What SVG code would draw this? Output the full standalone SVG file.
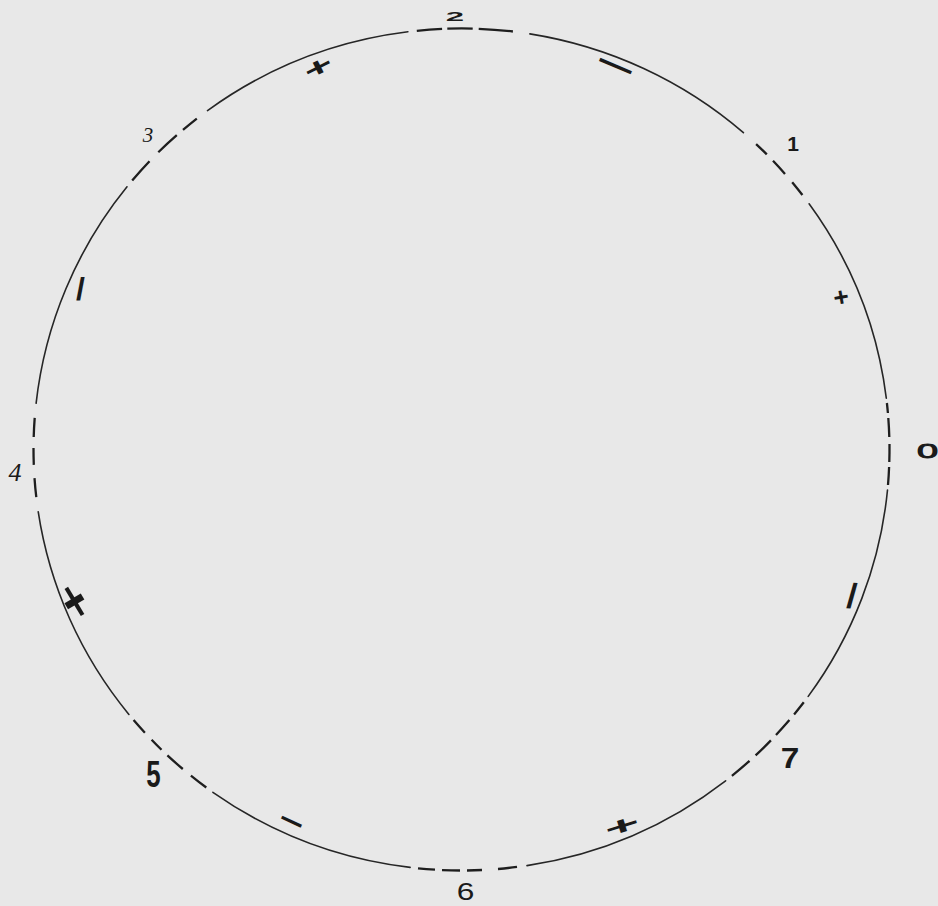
<svg xmlns="http://www.w3.org/2000/svg" width="938" height="906" viewBox="0 0 938 906">
<style>
.solid{fill:none;stroke:#262626;stroke-width:1.6;stroke-linecap:round}
.dash{fill:none;stroke:#1e1e1e;stroke-width:2.3;stroke-linecap:butt}
.lab{font-family:"Liberation Sans",Arial,sans-serif;fill:#1a1a1a;text-anchor:middle}
.it{font-family:"Liberation Serif","Times New Roman",serif;font-style:italic;fill:#1a1a1a;text-anchor:middle}
.mk{font-family:"Liberation Sans",Arial,sans-serif;fill:#1a1a1a;text-anchor:middle;dominant-baseline:central}
</style>
<rect x="0" y="0" width="938" height="906" fill="#e8e8e8"/>
<g id="circle">
<path class="solid" d="M887.5,490.0 A428,421 0 0 1 808.2,696.4 M725.6,780.8 A428,421 0 0 1 527.0,865.6 M410.1,867.4 A428,421 0 0 1 212.9,792.3 M128.9,714.4 A428,421 0 0 1 38.2,511.7 M36.1,403.3 A428,421 0 0 1 127.0,186.8 M207.5,110.6 A428,421 0 0 1 407.9,31.8 M529.9,33.9 A428,421 0 0 1 743.4,132.7 M809.1,203.8 A428,421 0 0 1 886.3,398.2"/>
</g>
<g id="connectors">
<path class="dash" d="M886.9,403.0 A428,421 0 0 1 887.9,413.0 M888.3,418.0 A428,421 0 0 1 889.3,437.0 M889.5,444.0 A428,421 0 0 1 889.3,462.0 M889.1,467.0 A428,421 0 0 1 888.0,485.0"/>
<path class="dash" d="M803.8,702.3 A428,421 0 0 1 794.1,714.4 M789.4,720.1 A428,421 0 0 1 776.0,735.0 M770.9,740.4 A428,421 0 0 1 755.6,755.4 M749.5,760.9 A428,421 0 0 1 731.9,775.8"/>
<path class="dash" d="M517.0,866.9 A428,421 0 0 1 498.0,869.0 M482.0,870.0 A428,421 0 0 1 467.0,870.5 M460.0,870.5 A428,421 0 0 1 442.0,870.1 M435.0,869.7 A428,421 0 0 1 418.0,868.3"/>
<path class="dash" d="M206.3,787.5 A428,421 0 0 1 190.9,775.6 M182.8,769.0 A428,421 0 0 1 167.4,755.4 M161.5,749.8 A428,421 0 0 1 151.6,739.8 M144.9,732.8 A428,421 0 0 1 133.6,720.1"/>
<path class="dash" d="M36.3,497.2 A428,421 0 0 1 34.5,478.1 M33.8,464.9 A428,421 0 0 1 33.5,448.0 M33.7,437.0 A428,421 0 0 1 34.7,417.9"/>
<path class="dash" d="M132.2,180.6 A428,421 0 0 1 149.5,161.3 M158.3,152.3 A428,421 0 0 1 176.8,135.2 M183.0,129.9 A428,421 0 0 1 196.8,118.6"/>
<path class="dash" d="M416.8,30.8 A428,421 0 0 1 442.1,28.9 M447.3,28.7 A428,421 0 0 1 472.7,28.6 M478.7,28.8 A428,421 0 0 1 512.9,31.5"/>
<path class="dash" d="M756.1,144.1 A428,421 0 0 1 766.8,154.4 M773.0,160.8 A428,421 0 0 1 785.0,173.9 M792.2,182.2 A428,421 0 0 1 802.4,195.0"/>
</g>
<g id="labels">
<text id="n0" class="lab" font-size="20" stroke="#1a1a1a" stroke-width="0.9" transform="translate(927.5,458) scale(1.9,1)">0</text>
<text id="n1" class="lab" font-size="21" font-weight="bold" x="793" y="150.5">1</text>
<text id="n2" class="lab" font-size="15" font-weight="bold" transform="translate(455,21) scale(2.2,0.9)">2</text>
<text id="n3" class="it" font-size="21" x="148" y="142">3</text>
<text id="n4" class="it" font-size="26" x="15" y="481">4</text>
<text id="n5" class="lab" font-size="37" font-weight="bold" transform="translate(153.5,787) scale(0.7,1)">5</text>
<text id="n6" class="lab" font-size="23.5" transform="translate(465.5,900) scale(1.35,1)">6</text>
<text id="n7" class="lab" font-size="29" font-weight="bold" transform="translate(790,768) scale(1.15,1)">7</text>
</g>
<g id="marks">
<text class="mk" font-size="26" font-weight="bold" transform="translate(318,67) rotate(-27) scale(1.9,1.0)">+</text>
<text class="mk" font-size="24" font-weight="bold" transform="translate(615.5,65.5) rotate(23) scale(2.85,1.3)">−</text>
<text class="mk" font-size="22" font-weight="bold" transform="translate(841,297) rotate(-10) scale(1.2,1.2)">+</text>
<text class="mk" font-size="35" font-weight="bold" transform="translate(852,595.5) rotate(5)">/</text>
<text class="mk" font-size="26" font-weight="bold" transform="translate(622,826) rotate(-17) scale(2.3,0.95)">+</text>
<text class="mk" font-size="24" font-weight="bold" transform="translate(291.5,821.5) rotate(25) scale(1.8,1.2)">−</text>
<text class="mk" font-size="30" font-weight="bold" transform="translate(75,601) rotate(59) scale(2.1,1.25)">+</text>
<text class="mk" font-size="32" font-weight="bold" transform="translate(80.5,289)">/</text>
</g>
</svg>
